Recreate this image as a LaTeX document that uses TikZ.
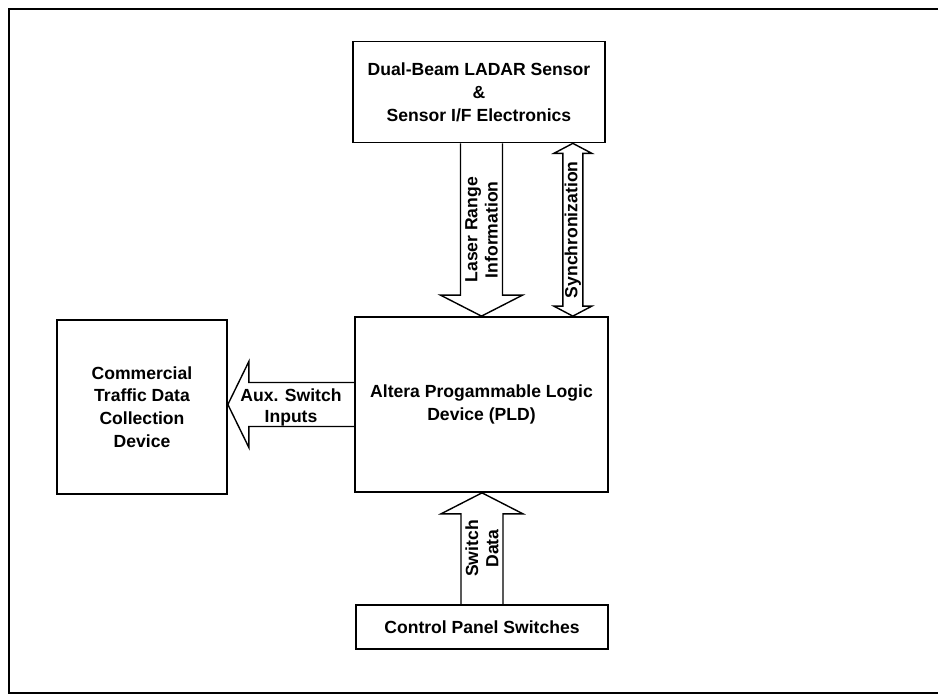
\documentclass[tikz,border=0pt]{standalone}
\usepackage{fontspec}
\setmainfont{Liberation Sans}
\usepackage{tikz}
\usetikzlibrary{positioning, calc}
\tikzset{
  unitbox/.style={rectangle, draw=black, line width=1pt, align=center,
    inner sep=0pt, font=\bfseries\fontsize{10}{13}\selectfont},
  fatarrow/.style={draw=black, line width=0.8pt, line join=miter},
  arrowlabel/.style={align=center, inner sep=0pt,
    font=\bfseries\fontsize{10}{11.5}\selectfont},
  frameline/.style={draw=black, line width=1.6pt}
}

\begin{document}
\begin{tikzpicture}[x=0.02cm, y=-0.02cm]
  \useasboundingbox (0,0) rectangle (938,695);
  % outer frame, runs off on the right
  \draw[frameline] (938,9) -- (9,9) -- (9,693) -- (938,693);

  % blocks
  \node[unitbox, minimum width=5.04cm, minimum height=2.02cm] (sensor) at (479,92)
    {Dual-Beam LADAR Sensor\\ \&\\ Sensor I/F Electronics};
  \node[unitbox, minimum width=5.06cm, minimum height=3.5cm] (pld) at (481.5,404.5)
    {Altera Progammable Logic\\ Device (PLD)};
  \node[unitbox, minimum width=3.4cm, minimum height=3.48cm] (traffic) at (142,407)
    {Commercial\\ Traffic Data\\ Collection\\ Device};
  \node[unitbox, minimum width=5.04cm, minimum height=0.88cm] (panel) at (482,627)
    {Control Panel Switches};

  % laser range information
  \coordinate (lrtop) at (sensor.south -| pld.north);
  \coordinate (lrtip) at (pld.north);
  \draw[fatarrow] ($(lrtop)+(-21,0)$) -- ($(lrtip)+(-21,-21)$) -- ($(lrtip)+(-41,-21)$)
    -- (lrtip) -- ($(lrtip)+(41,-21)$) -- ($(lrtip)+(21,-21)$) -- ($(lrtop)+(21,0)$);
  \node[arrowlabel, rotate=90] (lrlabel) at ($(lrtop)!0.5!(lrtip)$)
    {Laser Range\\ Information};

  % synchronization, both ways
  \coordinate (sytop) at ($(sensor.south east)+(-33,0)$);
  \coordinate (sybot) at (sytop |- pld.north);
  \draw[fatarrow] ($(sytop)+(-10,10)$) -- ($(sybot)+(-10,-10)$) -- ($(sybot)+(-19,-10)$)
    -- (sybot) -- ($(sybot)+(19,-10)$) -- ($(sybot)+(10,-10)$) -- ($(sytop)+(10,10)$)
    -- ($(sytop)+(19,10)$) -- (sytop) -- ($(sytop)+(-19,10)$) -- cycle;
  \node[arrowlabel, rotate=90] (sylabel) at ($(sytop)!0.5!(sybot)$) {Synchronization};

  % switch data
  \coordinate (swbot) at (panel.north);
  \coordinate (swtip) at (panel.north |- pld.south);
  \draw[fatarrow] ($(swbot)+(-21,0)$) -- ($(swtip)+(-21,21)$) -- ($(swtip)+(-41,21)$)
    -- (swtip) -- ($(swtip)+(41,21)$) -- ($(swtip)+(21,21)$) -- ($(swbot)+(21,0)$);
  \node[arrowlabel, rotate=90] (swlabel) at ($(swbot)!0.5!(swtip)$) {Switch\\ Data};

  % aux. switch inputs
  \coordinate (auxtail) at (pld.west);
  \coordinate (auxtip) at (traffic.east |- pld.west);
  \draw[fatarrow] ($(auxtail)+(0,-22)$) -- ($(auxtip)+(21,-22)$) -- ($(auxtip)+(21,-43)$)
    -- (auxtip) -- ($(auxtip)+(21,43)$) -- ($(auxtip)+(21,22)$) -- ($(auxtail)+(0,22)$);
  \node[arrowlabel] (auxlabel) at ($(auxtail)!0.5!(auxtip)+(0,3)$) {Aux. Switch\\ Inputs};
\end{tikzpicture}
\end{document}
